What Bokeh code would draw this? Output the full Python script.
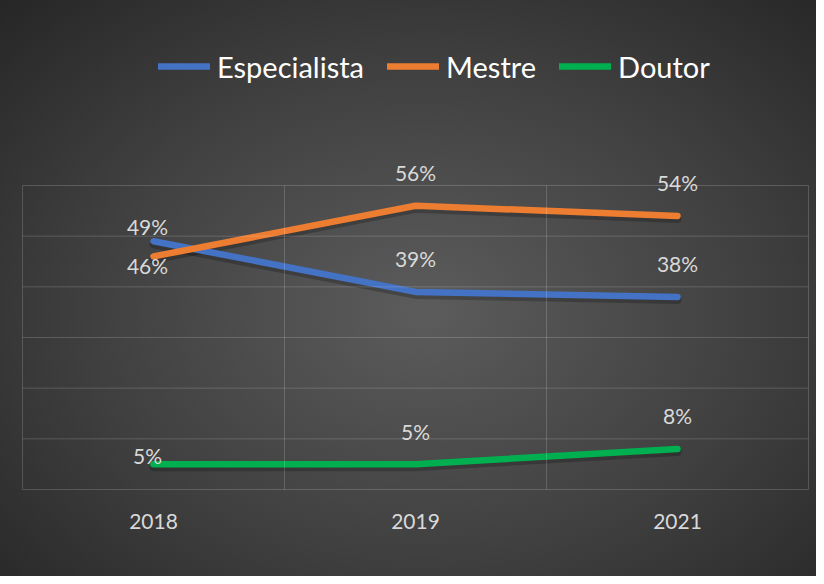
from bokeh.plotting import figure
from bokeh.models import (ColumnDataSource, FactorRange, Range1d, PolyAnnotation,
                          Legend, LegendItem, InlineStyleSheet)
from bokeh.embed import file_html
from bokeh.resources import INLINE
from bokeh.core.properties import value

# ---- data ----
years = ["2018", "2019", "2021"]
especialista = [49, 39, 38]
mestre = [46, 56, 54]
doutor = [5, 5, 8]
series_names = ["Especialista", "Mestre", "Doutor"]
y_ticks = [0, 10, 20, 30, 40, 50, 60]

# ---- style ----
colors = ["#4472C4", "#ED7D31", "#00B050"]
label_dx = [[-6, 0, 0], [-6, 0, 0], [-6, 0, 0]]
label_dy = [[-15, -33, -33], [9, -33, -33], [-9, -33, -33]]
FONT = "Lato"
GRID_ALPHA = 0.17

# layout: gridded box is 786 x 304 px; frame is a little larger so that texts
# above the box are not clipped and box edges are fully visible.
px_per_unit = 304.0 / (y_ticks[-1] - y_ticks[0])
pad_bottom_px = 3
frame_h = 576 - 84
y_start = y_ticks[0] - pad_bottom_px / px_per_unit
y_end = y_start + frame_h / px_per_unit
x_pad = 5.0 / 262.0

p = figure(width=816, height=576,
           x_range=FactorRange(*years, range_padding=x_pad, range_padding_units="absolute"),
           y_range=Range1d(y_start, y_end),
           output_backend="svg", toolbar_location=None,
           min_border_left=17, min_border_right=3,
           min_border_top=0, min_border_bottom=84)

p.background_fill_color = None
p.border_fill_color = None
p.stylesheets = [InlineStyleSheet(css=":host { background: radial-gradient(ellipse at 52% 54%, #5c5c5c 0%, #404040 55%, #262626 100%); }")]

p.outline_line_color = None
p.xgrid.visible = False
p.ygrid.visible = False

n = len(years)
for t in y_ticks:
    p.add_layout(PolyAnnotation(xs=[0, n], ys=[t, t], fill_color=None,
                                line_color="white", line_alpha=GRID_ALPHA, line_width=1))
for i in range(n + 1):
    p.add_layout(PolyAnnotation(xs=[i, i], ys=[y_ticks[0], y_ticks[-1]], fill_color=None,
                                line_color="white", line_alpha=GRID_ALPHA, line_width=1))

p.yaxis.visible = False
p.xaxis.axis_line_color = None
p.xaxis.major_tick_line_color = None
p.xaxis.minor_tick_line_color = None
p.xaxis.major_label_text_color = "#d9d9d9"
p.xaxis.major_label_text_font = FONT
p.xaxis.major_label_text_font_size = "21px"
p.xaxis.major_label_standoff = 15

series = [especialista, mestre, doutor]
renderers = []
for vals in series:
    p.line(years, [v - 0.6 for v in vals], line_color="black", line_alpha=0.22,
           line_width=8, line_cap="round", line_join="round")
for vals, col in zip(series, colors):
    r = p.line(years, vals, line_color=col, line_width=6.5,
               line_cap="round", line_join="round")
    renderers.append(r)

for vals, dx, dy in zip(series, label_dx, label_dy):
    src = ColumnDataSource(dict(x=years, y=vals, t=[f"{v}%" for v in vals],
                                dx=dx, dy=dy))
    p.text(x="x", y="y", text="t", x_offset="dx", y_offset="dy", source=src,
           text_align="center", text_baseline="middle",
           text_color="#d9d9d9", text_font=value(FONT), text_font_size="21px")

legend = Legend(items=[LegendItem(label=n_, renderers=[r]) for n_, r in zip(series_names, renderers)],
                orientation="horizontal", location=(141, 408),
                label_text_font=FONT, label_text_font_size="29px",
                label_text_color="white", background_fill_alpha=0,
                border_line_color=None, padding=0, margin=0, spacing=23,
                label_standoff=7, glyph_width=52, glyph_height=36, label_height=36)
p.add_layout(legend)

open("out.html", "w").write(file_html(p, INLINE))
